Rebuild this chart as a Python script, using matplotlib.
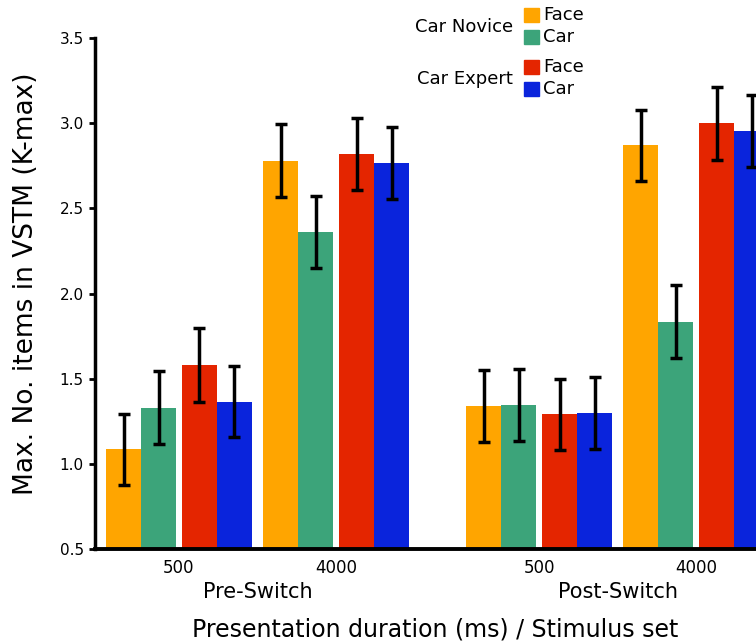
import numpy as np
import matplotlib
matplotlib.use("Agg")
import matplotlib.pyplot as plt
from matplotlib.patches import Rectangle
from matplotlib.transforms import blended_transform_factory

# data
durations = ["500", "4000", "500", "4000"]
blocks = ["Pre-Switch", "Post-Switch"]

novice_face = [1.085, 2.78, 1.34, 2.87]
novice_face_err = [0.21, 0.215, 0.21, 0.21]
novice_car = [1.33, 2.36, 1.345, 1.835]
novice_car_err = [0.215, 0.21, 0.21, 0.215]
expert_face = [1.58, 2.82, 1.29, 3.0]
expert_face_err = [0.215, 0.21, 0.21, 0.215]
expert_car = [1.365, 2.765, 1.30, 2.955]
expert_car_err = [0.21, 0.21, 0.21, 0.21]

series = [novice_face, novice_car, expert_face, expert_car]
series_err = [novice_face_err, novice_car_err, expert_face_err, expert_car_err]
colors = ["#FFA500", "#3CA47A", "#E42500", "#0A24DC"]

fig = plt.figure(figsize=(7.56, 6.43), dpi=100)
W, H = 756, 643
unit = 35.0  # px per bar
x_left, x_right = -2.4, 17.5
ax = fig.add_axes([95 / W, 94 / H, unit * (x_right - x_left) / W, 511 / H])

group_x = np.array([0, 4.49, 10.29, 14.78])
gap = 0.17
offsets = [-1.5 - gap / 2, -0.5 - gap / 2, 0.5 + gap / 2, 1.5 + gap / 2]

for vals, errs, off, c in zip(series, series_err, offsets, colors):
    ax.bar(group_x + off, vals, width=1.0, color=c, linewidth=0,
           yerr=errs, error_kw=dict(ecolor="black", elinewidth=2.5,
                                    capsize=4.3, capthick=2.5))

ax.set_xlim(x_left, x_right)
ax.set_ylim(0.5, 3.5)
yt = np.arange(0.5, 3.51, 0.5)
ax.set_yticks(yt)
ax.set_yticklabels([f"{v:.1f}" for v in yt], fontsize=11)
ax.set_xticks(group_x)
ax.set_xticklabels(durations, fontsize=12)
ax.tick_params(axis="x", length=0, pad=7)
ax.tick_params(axis="y", length=4, width=2, pad=4)

for s in ["top", "right"]:
    ax.spines[s].set_visible(False)
ax.spines["left"].set_linewidth(2.5)
ax.spines["bottom"].set_linewidth(2.8)

trans = blended_transform_factory(ax.transData, ax.transAxes)
for i, name in enumerate(blocks):
    cx = (group_x[2 * i] + group_x[2 * i + 1]) / 2
    ax.text(cx, -43 / 511, name, transform=trans, ha="center", va="center",
            fontsize=15)

fig.text(435 / W, 1 - 629 / H, "Presentation duration (ms) / Stimulus set",
         ha="center", va="center", fontsize=17)
fig.text(26 / W, 1 - 284 / H, "Max. No. items in VSTM (K-max)",
         ha="center", va="center", rotation=90, fontsize=19)

# legend drawn by hand
legend_rows = [("Car Novice", 27, [(15, "Face", colors[0]), (37, "Car", colors[1])]),
               ("Car Expert", 79, [(67, "Face", colors[2]), (89, "Car", colors[3])])]
for title, ty, items in legend_rows:
    fig.text(513 / W, 1 - ty / H, title, ha="right", va="center", fontsize=13)
    for iy, lab, c in items:
        fig.add_artist(Rectangle((524 / W, 1 - (iy + 7) / H), 15 / W, 14 / H,
                                 color=c, transform=fig.transFigure))
        fig.text(543 / W, 1 - iy / H, lab, ha="left", va="center", fontsize=13)

fig.savefig("out.png", dpi=100)
